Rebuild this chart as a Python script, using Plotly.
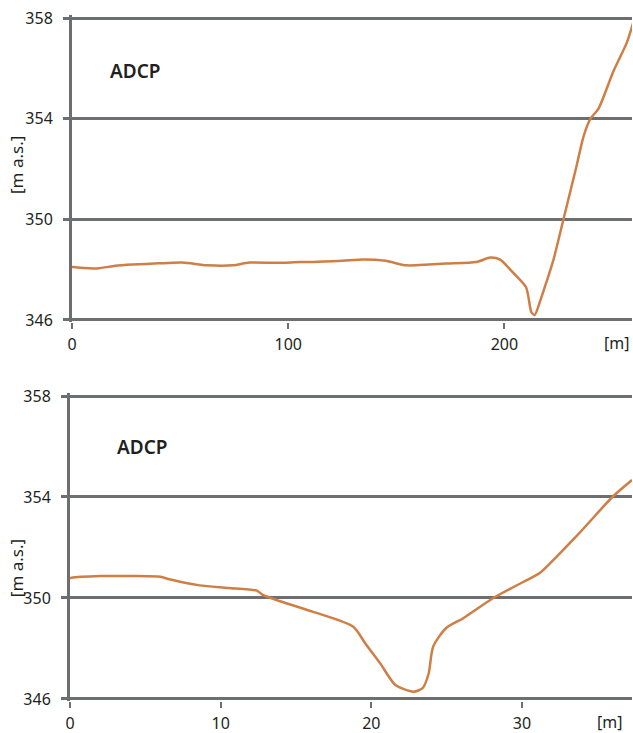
import plotly.graph_objects as go

# ---- data ----
top_x = [0, 0.5, 11.6, 20, 28, 40, 51, 62.5, 74.5, 82, 95, 105.6, 111.6, 125, 134.7,
         145, 154.6, 165, 173, 187, 193.5, 198, 204, 210, 212.5, 214, 216.7, 219.4,
         222.7, 227.3, 233.3, 236.6, 239.8, 243.5, 250.5, 256.5, 259.5]
top_y = [348.1, 348.1, 348.05, 348.15, 348.2, 348.25, 348.28, 348.17, 348.17, 348.28,
         348.27, 348.3, 348.3, 348.35, 348.4, 348.35, 348.17, 348.2, 348.24, 348.3,
         348.48, 348.4, 347.88, 347.3, 346.3, 346.2, 346.8, 347.5, 348.4, 350.0, 352.1,
         353.3, 354.0, 354.4, 355.9, 357.0, 357.8]

bot_x = [0, 0.1, 2, 4, 6, 6.6, 8.6, 10.5, 12.4, 12.8, 13.7, 16.1, 18.8, 19.6, 20.6,
         21.6, 22.8, 23.4, 23.8, 24.1, 24.95, 26.1, 28.1, 30.7, 31.2, 33.8, 36.0, 37.3]
bot_y = [350.78, 350.8, 350.87, 350.87, 350.84, 350.74, 350.5, 350.4, 350.29, 350.12,
         349.92, 349.46, 348.86, 348.2, 347.4, 346.55, 346.29, 346.43, 347.0, 348.07,
         348.8, 349.2, 350.0, 350.83, 351.0, 352.57, 354.0, 354.67]

y_ticks = [346, 350, 354, 358]
top_xticks = [0, 100, 200]
bot_xticks = [0, 10, 20, 30]

GRID = "#6d6e71"
LINE = "#cf7f45"
TXT = "#231f20"
FONT = "Noto Sans"

fig = go.Figure()
fig.add_trace(go.Scatter(x=top_x, y=top_y, mode="lines",
                         line=dict(color=LINE, width=2.5, shape="spline", smoothing=0.7),
                         xaxis="x", yaxis="y", showlegend=False))
fig.add_trace(go.Scatter(x=bot_x, y=bot_y, mode="lines",
                         line=dict(color=LINE, width=2.5, shape="spline", smoothing=0.7),
                         xaxis="x2", yaxis="y2", showlegend=False))

xcommon = dict(showgrid=False, zeroline=False, showline=False, ticks="outside",
               ticklen=6, tickwidth=2, tickcolor=GRID, automargin=False,
               ticklabeloverflow="allow",
               tickfont=dict(family=FONT, size=16, color=TXT), ticklabelstandoff=1)
ycommon = dict(showgrid=True, gridcolor=GRID, gridwidth=3, zeroline=False,
               showline=True, linecolor=GRID, linewidth=3, ticks="outside",
               ticklen=6, tickwidth=3, tickcolor=GRID, tickvals=y_ticks,
               range=[345.9, 358.1], automargin=False, ticklabeloverflow="allow",
               tickfont=dict(family=FONT, size=16, color=TXT), ticklabelstandoff=7)

fig.update_layout(
    width=633, height=733,
    margin=dict(l=70, r=1, t=10, b=20, autoexpand=False),
    paper_bgcolor="white", plot_bgcolor="white",
    hovermode=False,
    xaxis=dict(domain=[0.00356, 1], range=[0, 259], tickvals=top_xticks,
               anchor="y", **xcommon),
    yaxis=dict(domain=[0.5555, 0.9922], anchor="x", **ycommon),
    xaxis2=dict(domain=[0, 1], range=[0, 37.3], tickvals=bot_xticks,
                anchor="y2", **xcommon),
    yaxis2=dict(domain=[0.01636, 0.4545], anchor="x2", **ycommon),
    annotations=[
        dict(text="ADCP", x=0.0676, y=0.913, xref="paper", yref="paper",
             xanchor="left", yanchor="middle", showarrow=False,
             font=dict(family=FONT, size=19, color=TXT, weight=600)),
        dict(text="ADCP", x=0.08, y=0.378, xref="paper", yref="paper",
             xanchor="left", yanchor="middle", showarrow=False,
             font=dict(family=FONT, size=19, color=TXT, weight=600)),
        dict(text="[m]", x=0.973, y=0.526, xref="paper", yref="paper",
             xanchor="center", yanchor="middle", showarrow=False,
             font=dict(family=FONT, size=16, color=TXT)),
        dict(text="[m]", x=0.961, y=-0.0128, xref="paper", yref="paper",
             xanchor="center", yanchor="middle", showarrow=False,
             font=dict(family=FONT, size=16, color=TXT)),
        dict(text="[m a.s.]", x=-0.0961, y=0.7795, xref="paper", yref="paper",
             xanchor="center", yanchor="middle", showarrow=False, textangle=-90,
             font=dict(family=FONT, size=17, color=TXT)),
        dict(text="[m a.s.]", x=-0.0961, y=0.206, xref="paper", yref="paper",
             xanchor="center", yanchor="middle", showarrow=False, textangle=-90,
             font=dict(family=FONT, size=17, color=TXT)),
    ],
)

fig.write_html("out.html", config={"displayModeBar": False, "staticPlot": True},
               post_script="document.body.style.margin='0';"
                           "document.documentElement.style.overflow='hidden';")
